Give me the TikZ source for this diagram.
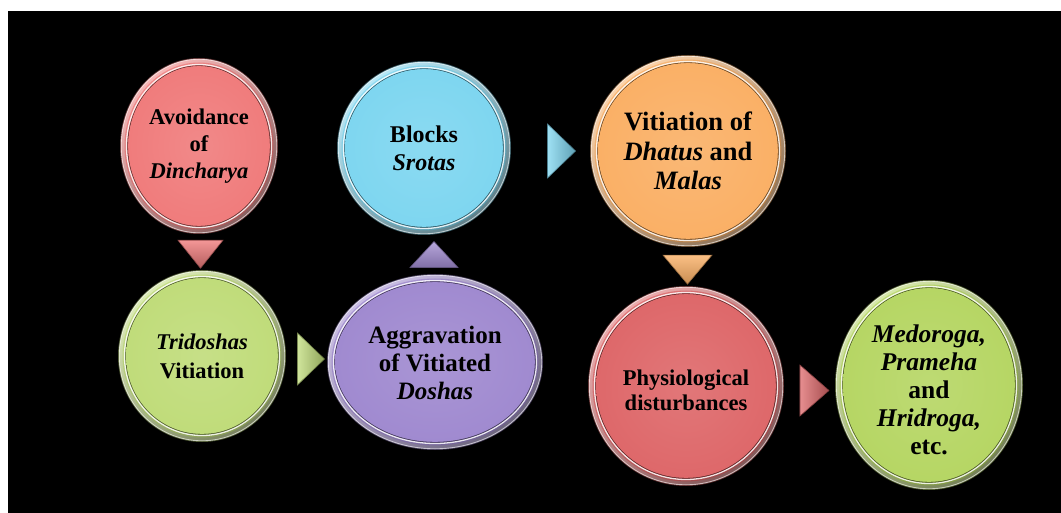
\documentclass[tikz,border=0pt]{standalone}
\usepackage{fontspec}
\setmainfont{Liberation Serif}
\usetikzlibrary{shapes.geometric}
\definecolor{cRedA}{RGB}{240,124,124}
\definecolor{cRedB}{RGB}{222,104,106}
\definecolor{cGreenA}{RGB}{192,220,122}
\definecolor{cGreenB}{RGB}{182,214,100}
\definecolor{cCyan}{RGB}{126,214,240}
\definecolor{cPurple}{RGB}{160,138,208}
\definecolor{cOrange}{RGB}{250,176,102}
\newcommand{\mybubble}[5]{%
  \fill[#5!40!black] (#1,#2) ellipse [x radius=#3pt, y radius=#4pt];
  \shade[top color=#5!55!white, bottom color=#5!45!black!80!white, shading angle=40]
    (#1,#2) ellipse [x radius=#3pt-1pt, y radius=#4pt-1pt];
  \draw[white, line width=0.9pt, opacity=0.6] (#1,#2) ellipse [x radius=#3pt-1.2pt, y radius=#4pt-1.2pt];
  \shade[top color=#5!90!white, bottom color=#5!70!black, shading angle=40]
    (#1,#2) ellipse [x radius=#3pt-4.5pt, y radius=#4pt-4.5pt];
  \draw[white, line width=1.3pt, opacity=0.85] (#1,#2) ellipse [x radius=#3pt-6.5pt, y radius=#4pt-6.5pt];
  \draw[#5!45!black, line width=0.8pt] (#1,#2) ellipse [x radius=#3pt-7.8pt, y radius=#4pt-7.8pt];
  \shade[inner color=#5!90!white, outer color=#5] (#1,#2) ellipse [x radius=#3pt-8.2pt, y radius=#4pt-8.2pt];
}
\tikzset{
  lbl/.style={shape=ellipse, inner sep=0pt, align=center, text=black},
  tri/.style={shape=isosceles triangle, isosceles triangle stretches, inner sep=0pt, line width=0.6pt},
}
\begin{document}
\begin{tikzpicture}[x=1pt, y=-1pt]
\fill[white] (0,0) rectangle (1061,513);
\fill[black] (8,11) rectangle (1061,513);
\useasboundingbox (0,0) rectangle (1061,513);

% bubbles
\mybubble{199}{146}{79}{88}{cRedA}
\mybubble{424}{148}{87}{87}{cCyan}
\mybubble{202}{356}{84}{86}{cGreenA}
\mybubble{435}{362}{108}{88}{cPurple}
\mybubble{688}{151}{98}{96}{cOrange}
\mybubble{686}{386}{98}{100}{cRedB}
\mybubble{929}{385}{94}{105}{cGreenB}

% labels
\node[lbl, minimum width=158pt, minimum height=176pt, font={\fontsize{22.5}{27}\selectfont\bfseries}] (a) at (199,146) {Avoidance\\ of\\ \textit{Dincharya}};
\node[lbl, minimum width=174pt, minimum height=174pt, font={\fontsize{24}{28}\selectfont\bfseries}] (b) at (424,148) {Blocks\\ \textit{Srotas}};
\node[lbl, minimum width=168pt, minimum height=172pt, font={\fontsize{22.5}{29}\selectfont\bfseries}] (c) at (202,356) {\textit{Tridoshas}\\ Vitiation};
\node[lbl, minimum width=216pt, minimum height=176pt, font={\fontsize{25}{28}\selectfont\bfseries}] (d) at (435,363) {Aggravation\\ of Vitiated\\ \textit{Doshas}};
\node[lbl, minimum width=196pt, minimum height=192pt, font={\fontsize{26.5}{29.5}\selectfont\bfseries}] (e) at (688,151) {Vitiation of\\ \textit{Dhatus} and\\ \textit{Malas}};
\node[lbl, minimum width=196pt, minimum height=200pt, font={\fontsize{22.5}{25}\selectfont\bfseries}] (f) at (686,390) {Physiological\\ disturbances};
\node[lbl, minimum width=188pt, minimum height=210pt, font={\fontsize{25.5}{28}\selectfont\bfseries}] (g) at (929,390) {\textit{Medoroga,}\\ \textit{Prameha}\\ and\\ \textit{Hridroga,}\\ etc.};

% connectors (triangles)
\node[tri, shape border rotate=-90, minimum height=28pt, minimum width=45pt, top color=cRedA!80!white, bottom color=cRedA!75!black, draw=cRedA!60!black] (t1) at (200.5,251) {};
\node[tri, shape border rotate=0, minimum height=27pt, minimum width=52pt, left color=cGreenA!75!white, right color=cGreenA!75!black, draw=cGreenA!60!black] (t2) at (308.5,359) {};
\node[tri, shape border rotate=90, minimum height=26pt, minimum width=48pt, top color=cPurple!75!white, bottom color=cPurple!80!black, draw=cPurple!60!black] (t3) at (434,257) {};
\node[tri, shape border rotate=0, minimum height=28pt, minimum width=54pt, left color=cCyan!75!white, right color=cCyan!75!black, draw=cCyan!60!black] (t4) at (559,151) {};
\node[tri, shape border rotate=-90, minimum height=29pt, minimum width=49pt, top color=cOrange!80!white, bottom color=cOrange!80!black, draw=cOrange!60!black] (t5) at (687.5,266.5) {};
\node[tri, shape border rotate=0, minimum height=29pt, minimum width=51pt, left color=cRedB!75!white, right color=cRedB!75!black, draw=cRedB!60!black] (t6) at (811.5,390.5) {};
\end{tikzpicture}
\end{document}
